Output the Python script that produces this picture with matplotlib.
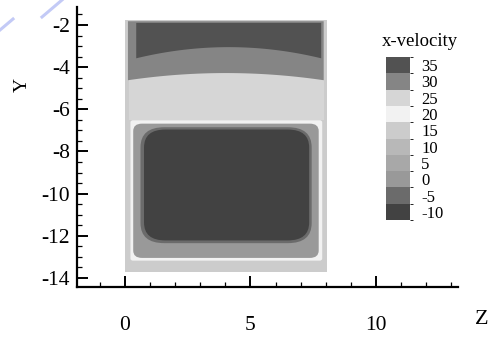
import matplotlib
matplotlib.use("Agg")
import matplotlib.pyplot as plt
import numpy as np
from matplotlib.colors import ListedColormap, BoundaryNorm
from matplotlib.cm import ScalarMappable
from matplotlib.patches import FancyBboxPatch, Rectangle
from matplotlib.lines import Line2D

plt.rcParams["font.family"] = ["Liberation Serif", "DejaVu Serif"]
plt.rcParams["axes.unicode_minus"] = False

# contour levels of x-velocity and the gray used for each band
levels = [-10, -5, 0, 5, 10, 15, 20, 25, 30, 35]
band_grays = [0.26, 0.42, 0.60, 0.66, 0.72, 0.80, 0.95, 0.84, 0.52, 0.32]

# duct cross-section extent (Z, Y)
domain_z = [0.0, 8.05]
domain_y = [-13.72, -1.76]
domain_level = 15

# upper stream: bands whose lower edge is an arc (edge value, centre value)
upper_level = [25, 30, 35]
upper_z0 = [0.15, 0.12, 0.45]
upper_z1 = [7.92, 7.92, 7.82]
upper_top = [-1.80, -1.82, -1.90]
upper_bot_edge = [-6.52, -4.62, -3.58]
upper_bot_mid = [-6.52, -4.28, -3.05]

# lower recirculation block: nested rounded rectangles
lower_level = [20, 0, -5, -10]
lower_z0 = [0.22, 0.33, 0.62, 0.76]
lower_z1 = [7.86, 7.72, 7.44, 7.34]
lower_top = [-6.52, -6.68, -6.85, -6.96]
lower_bot = [-13.18, -13.05, -12.35, -12.22]
lower_round = [0.10, 0.35, 0.95, 0.85]

z_ticks = [0, 5, 10]
y_ticks = [-2, -4, -6, -8, -10, -12, -14]

cmap = ListedColormap([str(g) for g in band_grays])
bounds = [lv - 2.5 for lv in levels] + [levels[-1] + 2.5]
norm = BoundaryNorm(bounds, cmap.N)


def color_of(level):
    return cmap(norm(level))


fig = plt.figure(figsize=(5.01, 3.38), dpi=100)
ax = fig.add_axes([77 / 501, 51 / 338, 381 / 501, 280 / 338])
ax.set_xlim(-1.91, 13.27)
ax.set_ylim(-14.43, -1.146)

# base of the section
ax.add_patch(Rectangle((domain_z[0], domain_y[0]), domain_z[1] - domain_z[0],
                       domain_y[1] - domain_y[0], facecolor=color_of(domain_level),
                       edgecolor="none", zorder=1))

# upper bands
for lv, z0, z1, yt, ye, ym in zip(upper_level, upper_z0, upper_z1, upper_top,
                                  upper_bot_edge, upper_bot_mid):
    zz = np.linspace(z0, z1, 200)
    zc, hw = 0.5 * (z0 + z1), 0.5 * (z1 - z0)
    yb = ym + (ye - ym) * ((zz - zc) / hw) ** 2
    ax.fill_between(zz, yb, yt, facecolor=color_of(lv), edgecolor="none", zorder=2)

# lower block
for lv, z0, z1, yt, yb, r in zip(lower_level, lower_z0, lower_z1, lower_top,
                                 lower_bot, lower_round):
    ax.add_patch(FancyBboxPatch((z0, yb), z1 - z0, yt - yb,
                                boxstyle=f"round,pad=0,rounding_size={r}",
                                mutation_aspect=1.0,
                                facecolor=color_of(lv), edgecolor="none", zorder=3))

# axes frame
for side in ("top", "right"):
    ax.spines[side].set_visible(False)
for side in ("left", "bottom"):
    ax.spines[side].set_linewidth(1.6)
ax.set_xticks(z_ticks)
ax.set_yticks(y_ticks)
ax.set_xticks(np.arange(-1, 14, 1), minor=True)
ax.set_yticks(np.arange(-14, -1.1, 0.5), minor=True)
ax.tick_params(which="major", direction="in", length=8, width=1.4, labelsize=15.5)
ax.tick_params(which="minor", direction="in", length=3.5, width=0.9)
ax.tick_params(axis="x", which="major", pad=21)
ax.tick_params(axis="y", which="major", pad=5)

fig.text(22 / 501, 1 - 85 / 338, "Y", rotation=90, ha="center", va="center", fontsize=14)
fig.text(482 / 501, 1 - 320 / 338, "Z", ha="center", va="center", fontsize=16)

# colour legend
cax = fig.add_axes([386 / 501, 118 / 338, 24 / 501, 163 / 338])
cb = fig.colorbar(ScalarMappable(norm=norm, cmap=cmap), cax=cax, ticks=levels)
cb.outline.set_visible(False)
cb.ax.set_yticklabels([str(v) for v in levels])
cb.ax.tick_params(length=0, pad=8, labelsize=12)
fig.text(420 / 501, 1 - 42 / 338, "x-velocity", ha="center", va="center", fontsize=13.5)

# faint blue stroke at the top-left corner
fig.add_artist(Line2D([62 / 501, 42 / 501], [1.0, 1 - 17 / 338], color="#c3caf6", lw=2.2))
fig.add_artist(Line2D([13 / 501, 0.0], [1 - 19 / 338, 1 - 30 / 338], color="#c3caf6", lw=2.2))

fig.savefig("out.png", dpi=100)
